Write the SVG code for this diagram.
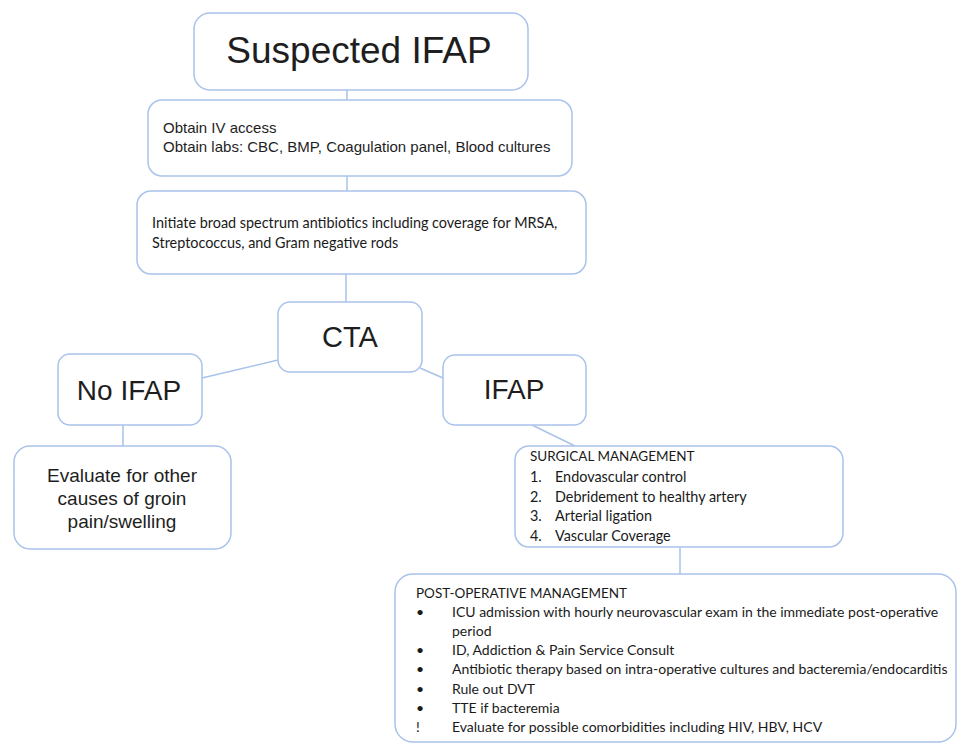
<svg xmlns="http://www.w3.org/2000/svg" width="958" height="745" viewBox="0 0 958 745">
<style>
.box{fill:#fff;stroke:#a9c3ea;stroke-width:1.5}
.ln{stroke:#a9c3ea;stroke-width:1.5;fill:none}
.h{font-family:"Liberation Sans",Arial,sans-serif;fill:#1e1e1e}
.c{font-family:Lato,"Liberation Sans",sans-serif;fill:#1a1a1a}
.s{font-size:14.4px}
.p{font-size:14px}
.t{font-size:13.5px}
</style>
<rect width="958" height="745" fill="#fff"/>
<g id="connectors">
<line class="ln" x1="347" y1="90" x2="347" y2="100"/>
<line class="ln" x1="347" y1="176" x2="347" y2="191"/>
<line class="ln" x1="346" y1="274" x2="346" y2="302"/>
<line class="ln" x1="202" y1="378" x2="278" y2="360"/>
<line class="ln" x1="420" y1="368" x2="443" y2="378"/>
<line class="ln" x1="123" y1="425" x2="123" y2="446"/>
<line class="ln" x1="532" y1="425" x2="575" y2="446"/>
<line class="ln" x1="680" y1="547" x2="680" y2="574"/>
</g>
<g id="suspected">
<rect class="box" x="194" y="13" width="334" height="77" rx="16"/>
<text class="h" x="359" y="63" font-size="37" text-anchor="middle">Suspected IFAP</text>
</g>
<g id="labs">
<rect class="box" x="148" y="100" width="424" height="76" rx="14"/>
<text class="h" x="163" y="133" font-size="15">Obtain IV access</text>
<text class="h" x="163" y="152" font-size="15">Obtain labs: CBC, BMP, Coagulation panel, Blood cultures</text>
</g>
<g id="antibiotics">
<rect class="box" x="137" y="191" width="449" height="83" rx="14"/>
<text class="c s" x="152" y="228">Initiate broad spectrum antibiotics including coverage for MRSA,</text>
<text class="c s" x="152" y="248">Streptococcus, and Gram negative rods</text>
</g>
<g id="cta">
<rect class="box" x="278" y="302" width="144" height="70" rx="12"/>
<text class="h" x="350" y="347" font-size="29" text-anchor="middle">CTA</text>
</g>
<g id="no-ifap">
<rect class="box" x="58" y="354" width="144" height="71" rx="12"/>
<text class="h" x="129" y="400" font-size="28" text-anchor="middle">No IFAP</text>
</g>
<g id="ifap">
<rect class="box" x="443" y="355" width="143" height="70" rx="12"/>
<text class="h" x="514" y="399" font-size="28" text-anchor="middle">IFAP</text>
</g>
<g id="evaluate">
<rect class="box" x="14" y="446" width="217" height="103" rx="16"/>
<text class="h" x="122" y="482" font-size="19" text-anchor="middle">Evaluate for other</text>
<text class="h" x="122" y="505" font-size="19" text-anchor="middle">causes of groin</text>
<text class="h" x="122" y="528" font-size="19" text-anchor="middle">pain/swelling</text>
</g>
<g id="surgical">
<rect class="box" x="515" y="446" width="328" height="101" rx="14"/>
<text class="c t" x="530" y="461">SURGICAL MANAGEMENT</text>
<text class="c s" x="530" y="482">1.</text><text class="c s" x="555" y="482">Endovascular control</text>
<text class="c s" x="530" y="502">2.</text><text class="c s" x="555" y="502">Debridement to healthy artery</text>
<text class="c s" x="530" y="521">3.</text><text class="c s" x="555" y="521">Arterial ligation</text>
<text class="c s" x="530" y="541">4.</text><text class="c s" x="555" y="541">Vascular Coverage</text>
</g>
<g id="post-op">
<rect class="box" x="395" y="574" width="561" height="168" rx="18"/>
<text class="c t" x="416" y="598">POST-OPERATIVE MANAGEMENT</text>
<text class="c p" x="416" y="617">•</text><text class="c p" x="452" y="617">ICU admission with hourly neurovascular exam in the immediate post-operative</text>
<text class="c p" x="452" y="636">period</text>
<text class="c p" x="416" y="655">•</text><text class="c p" x="452" y="655">ID, Addiction &amp; Pain Service Consult</text>
<text class="c p" x="416" y="674">•</text><text class="c p" x="452" y="674">Antibiotic therapy based on intra-operative cultures and bacteremia/endocarditis</text>
<text class="c p" x="416" y="694">•</text><text class="c p" x="452" y="694">Rule out DVT</text>
<text class="c p" x="416" y="713">•</text><text class="c p" x="452" y="713">TTE if bacteremia</text>
<text class="c p" x="416" y="732">!</text><text class="c p" x="452" y="732">Evaluate for possible comorbidities including HIV, HBV, HCV</text>
</g>
</svg>
